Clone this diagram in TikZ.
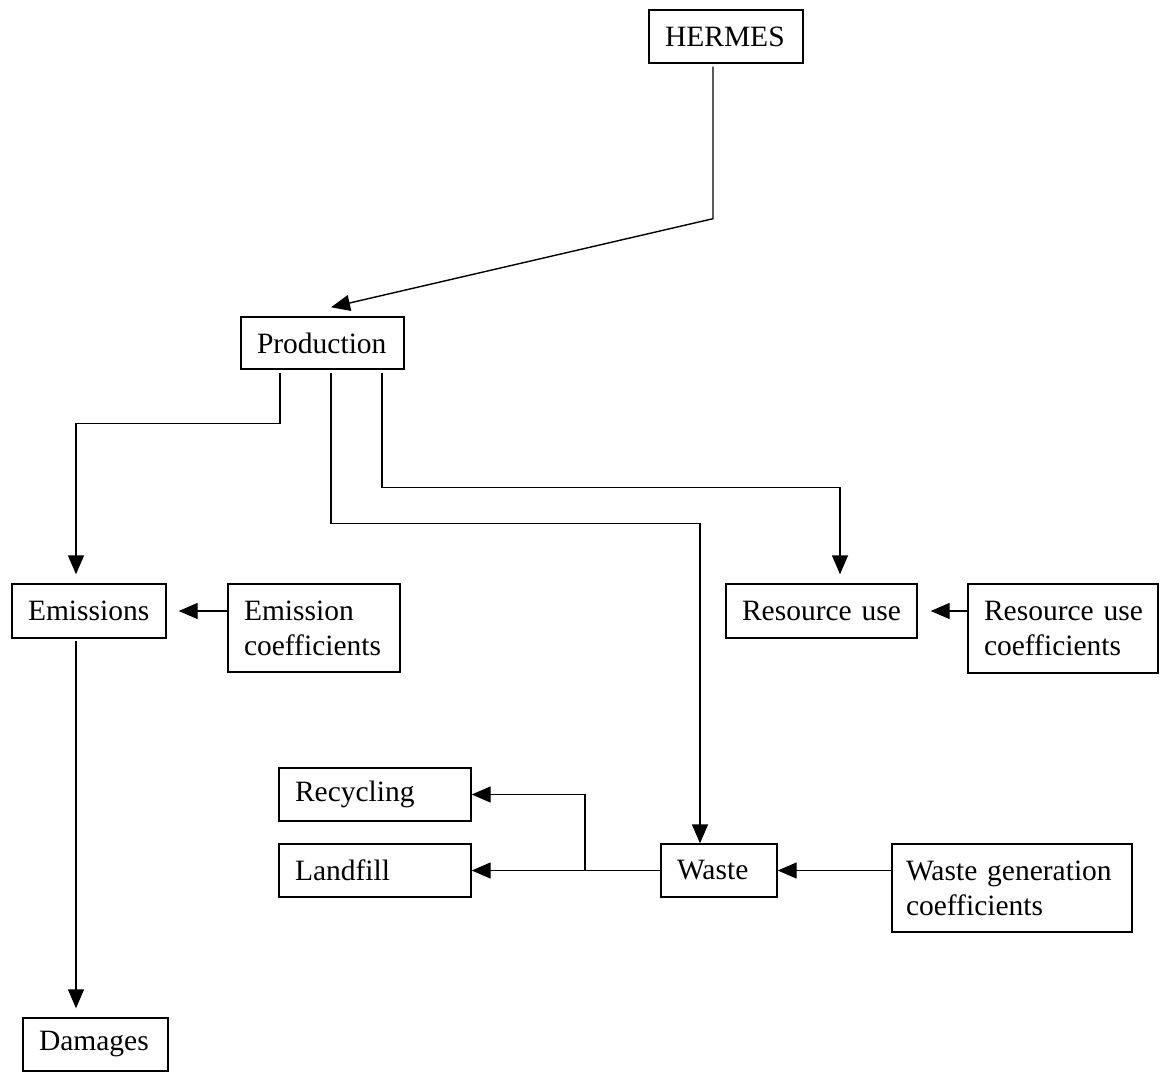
\documentclass[tikz,border=0pt]{standalone}
\usepackage{fontspec}
\setmainfont{Liberation Serif}
\usetikzlibrary{arrows.meta,calc}
\begin{document}
\begin{tikzpicture}[x=1pt,y=-1pt, line width=1.4pt,
  box/.style={draw, rectangle, inner xsep=16pt, inner ysep=0pt, align=left},
  arr/.style={-{Triangle[length=19pt,width=16pt]}},
  font=\fontsize{29.5}{35}\selectfont]
\useasboundingbox (0,0) rectangle (1160,1079);
% boxes
\node[box, text width=122pt, minimum height=53pt] (hermes) at (726,36.5) {HERMES};
\node[box, text width=131pt, minimum height=52pt] (prod) at (322.5,343) {Production};
\node[box, text width=122pt, minimum height=54pt] (emis) at (89,611) {Emissions};
\node[box, text width=140pt, minimum height=88pt] (emisc) at (314,628) {Emission\\coefficients};
\node[box, text width=159pt, minimum height=54pt] (res) at (821.5,611) {\mbox{Resource use}};
\node[box, text width=158pt, minimum height=89pt] (resc) at (1063,628.5) {\mbox{Resource use}\\coefficients};
\node[box, text width=160pt, minimum height=53pt] (recyc) at (375,794.5) {Recycling};
\node[box, text width=160pt, minimum height=53pt] (landf) at (375,870.5) {Landfill};
\node[box, text width=84pt, minimum height=53pt] (waste) at (719,870.5) {Waste};
\node[box, inner xsep=14pt, text width=212pt, minimum height=88pt] (wastec) at (1012,888) {\mbox{Waste generation}\\coefficients};
\node[box, text width=113pt, minimum height=53pt] (dam) at (95.5,1044.5) {Damages};
% connectors
\draw[arr] ([xshift=-13pt,yshift=-3pt]hermes.south) -- ++(0,152) -- ([xshift=8.5pt,yshift=9pt]prod.north);
\draw[arr] ([xshift=-42.5pt,yshift=-3pt]prod.south) -- ++(0,51) -| ([xshift=-13pt,yshift=9pt]emis.north);
\draw[arr] ([xshift=8.5pt,yshift=-3pt]prod.south) -- ++(0,151) -| ([xshift=-19pt]waste.north);
\draw[arr] ([xshift=59.5pt,yshift=-3pt]prod.south) -- ++(0,115) -| ([xshift=18.5pt,yshift=9pt]res.north);
\draw[arr] (emisc.west |- emis.east) -- ([xshift=12pt]emis.east);
\draw[arr] (resc.west |- res.east) -- ([xshift=13pt]res.east);
\draw[arr] (wastec.west |- waste.east) -- (waste.east);
\coordinate (br) at ($(landf.east)!0.6!(waste.west)$);
\draw[arr] (waste.west) -- (landf.east);
\draw[arr] (br) |- (recyc.east);
\draw[arr] ([xshift=-13pt,yshift=-2pt]emis.south) -- ([xshift=-19.5pt,yshift=9pt]dam.north);
\end{tikzpicture}
\end{document}
